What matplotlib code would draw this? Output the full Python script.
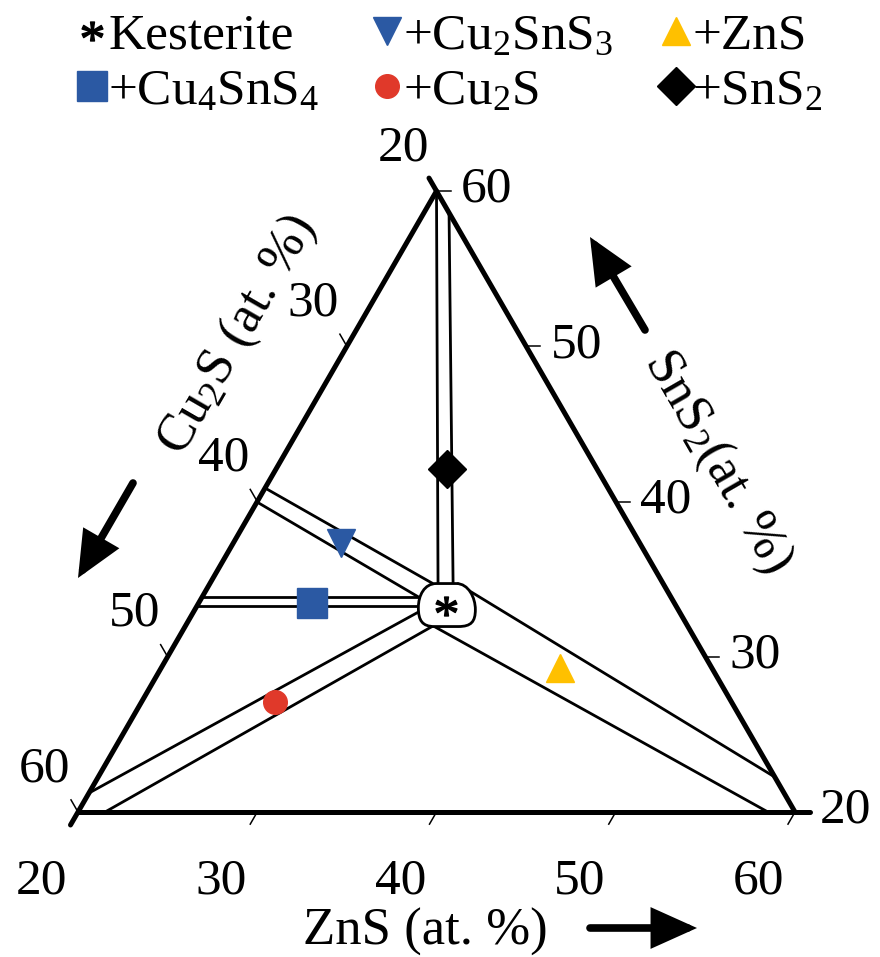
import numpy as np
import matplotlib
matplotlib.use("Agg")
import matplotlib.pyplot as plt
from matplotlib.path import Path
from matplotlib.patches import PathPatch, FancyArrowPatch, ArrowStyle
from matplotlib.textpath import TextPath
from matplotlib.font_manager import FontProperties

plt.rcParams['font.family'] = ['Liberation Serif', 'DejaVu Serif']
plt.rcParams['mathtext.fontset'] = 'custom'
plt.rcParams['mathtext.rm'] = 'Liberation Serif'
plt.rcParams['mathtext.it'] = 'Liberation Serif:italic'

# ---- data: compositions as (ZnS, SnS2) in at.%, Cu2S = 100 - ZnS - SnS2 ----
ticks = [20, 30, 40, 50, 60]

kesterite = (33.9, 33.3)
pt_cu2sns3 = (26.0, 37.3)
pt_cu4sns4 = (26.35, 33.46)
pt_cu2s = (27.45, 27.09)
pt_sns2 = (29.54, 42.10)
pt_zns = (42.25, 29.28)

# two-phase band boundaries (start at kesterite region, end at triangle edge)
band_sns2 = [[(32.71, 34.75), (20.0, 60.0)], [(33.55, 34.75), (21.4, 58.6)]]
band_cu2sns3 = [[(32.37, 34.75), (20.0, 40.87)], [(32.19, 33.79), (20.0, 39.97)]]
band_cu4sns4 = [[(32.16, 33.85), (20.0, 33.85)], [(32.45, 33.27), (20.0, 33.27)]]
band_cu2s = [[(32.69, 33.01), (20.0, 21.22)], [(33.81, 31.98), (21.51, 20.0)]]
band_zns = [[(33.86, 34.69), (57.75, 22.25)], [(33.96, 31.92), (58.49, 20.0)]]

blue = '#2B59A3'
red = '#E0392A'
yellow = '#FFC000'

R3 = np.sqrt(3) / 2
S = 717 / 40.0          # pixels per at.%


def tern(zns, sns2):
    zns = np.asarray(zns, float)
    sns2 = np.asarray(sns2, float)
    return (zns - 20) + (sns2 - 20) / 2, (sns2 - 20) * R3


def px(x, y):
    # figure pixel (from top-left) -> data coords
    return ((x - 78) / S, (812 - y) / S)


# Times-like asterisk as a marker
tp = TextPath((0, 0), '*', size=1, prop=FontProperties(family='Liberation Serif'))
sv = tp.vertices.copy()
closing = tp.codes == Path.CLOSEPOLY
real = sv[~closing]
ctr = (real.min(axis=0) + real.max(axis=0)) / 2
sv = sv - ctr
sv[closing] = 0
star = Path(sv, tp.codes)

fig = plt.figure(figsize=(8.8, 9.57), dpi=100)
ax = fig.add_axes([0, 0, 1, 1])
ax.set_xlim(-78 / S, (880 - 78) / S)
ax.set_ylim(-(957 - 812) / S, 812 / S)
ax.axis('off')

# triangle edges, each one running a tick length past its end vertex
ext = 15 / S
BL = np.array(tern(20, 20))
BR = np.array(tern(60, 20))
TP = np.array(tern(20, 60))
for a, b in [(BL, BR), (BR, TP), (TP, BL)]:
    d = (b - a) / np.hypot(*(b - a))
    e = b + d * ext
    ax.plot([a[0], e[0]], [a[1], e[1]], color='k', lw=3.6,
            solid_capstyle='round', zorder=2)

# ticks and tick labels
tl = 14 / S
for v in ticks:
    p_z = np.array(tern(v, 20))
    p_c = np.array(tern(20, 80 - v))
    p_s = np.array(tern(80 - v, v))
    if v > 20:
        for p, d in [(p_z, (-0.5, -R3)), (p_c, (-0.5, R3)), (p_s, (1, 0))]:
            ax.plot([p[0], p[0] + d[0] * tl], [p[1], p[1] + d[1] * tl],
                    color='k', lw=1.1, zorder=2)
    ax.annotate(str(v), p_z, xytext=(-26, -50), textcoords='offset points',
                ha='center', va='center', fontsize=37)
    ax.annotate(str(v), p_c, xytext=(-24, 31), textcoords='offset points',
                ha='center', va='center', fontsize=37)
    ax.annotate(str(v), p_s, xytext=(36, 1), textcoords='offset points',
                ha='center', va='center', fontsize=37)

# two-phase bands
for band in [band_sns2, band_cu2sns3, band_cu4sns4, band_cu2s, band_zns]:
    for (z0, s0), (z1, s1) in band:
        x, y = tern([z0, z1], [s0, s1])
        ax.plot(x, y, color='k', lw=2.0, zorder=2)

# kesterite single-phase region
kx, ky = tern(*kesterite)
shape = [(-10, -22), (10, -22), (22, -22), (29, -8), (29, 4),
         (29, 16), (25, 21), (12, 21), (-12, 21),
         (-24, 21), (-28, 15), (-28, 2), (-28, -10), (-22, -22), (-10, -22),
         (0, 0)]
codes = [Path.MOVETO, Path.LINETO, Path.CURVE4, Path.CURVE4, Path.CURVE4,
         Path.CURVE4, Path.CURVE4, Path.CURVE4, Path.LINETO,
         Path.CURVE4, Path.CURVE4, Path.CURVE4, Path.CURVE4, Path.CURVE4, Path.CURVE4,
         Path.CLOSEPOLY]
verts = [(kx + dx / S, ky - dy / S) for dx, dy in shape]
ax.add_patch(PathPatch(Path(verts, codes), facecolor='white', edgecolor='k',
                       lw=2.0, zorder=3))

h_k, = ax.plot(kx, ky, ls='none', marker=star, ms=15, color='k', zorder=5)
h_v, = ax.plot(*tern(*pt_cu2sns3), ls='none', marker='v', ms=20, color=blue, zorder=5)
h_t, = ax.plot(*tern(*pt_zns), ls='none', marker='^', ms=20, color=yellow, zorder=5)
h_s, = ax.plot(*tern(*pt_cu4sns4), ls='none', marker='s', ms=22, color=blue, zorder=5)
h_o, = ax.plot(*tern(*pt_cu2s), ls='none', marker='o', ms=17, color=red, zorder=5)
h_d, = ax.plot(*tern(*pt_sns2), ls='none', marker='D', ms=19, color='k', zorder=5)

# legend: three columns of two entries
legend_cols = [([h_k, h_s], ['Kesterite', '+Cu$_4$SnS$_4$'], 79),
               ([h_v, h_o], ['+Cu$_2$SnS$_3$', '+Cu$_2$S'], 374),
               ([h_t, h_d], ['+ZnS', '+SnS$_2$'], 663)]
for hs, labs, x0 in legend_cols:
    leg = fig.legend(hs, labs, loc='upper left',
                     bbox_to_anchor=(x0 / 880, 1 - 13 / 957),
                     frameon=False, fontsize=37, handlelength=0.5,
                     handletextpad=0.07, labelspacing=0.16, borderpad=0,
                     borderaxespad=0)

# axis titles and arrows
ax.text(*px(425, 932), 'ZnS (at. %)', ha='center', va='center', fontsize=38)
ax.text(*px(238, 335), 'Cu$_2$S (at. %)', ha='center', va='center', fontsize=38,
        rotation=60, rotation_mode='anchor')
ax.text(*px(717, 462), 'SnS$_2$(at. %)', ha='center', va='center', fontsize=38,
        rotation=-60, rotation_mode='anchor')

style = ArrowStyle('-|>', head_length=1.0, head_width=0.45)
for tail, head in [((590, 928), (697, 928)), ((133, 483), (78, 578)),
                   ((645, 330), (590, 237))]:
    ax.add_patch(FancyArrowPatch(px(*tail), px(*head), arrowstyle=style,
                                 mutation_scale=24, lw=5.5, color='k',
                                 capstyle='round', joinstyle='miter',
                                 shrinkA=0, shrinkB=0))

fig.savefig('out.png', dpi=100)
